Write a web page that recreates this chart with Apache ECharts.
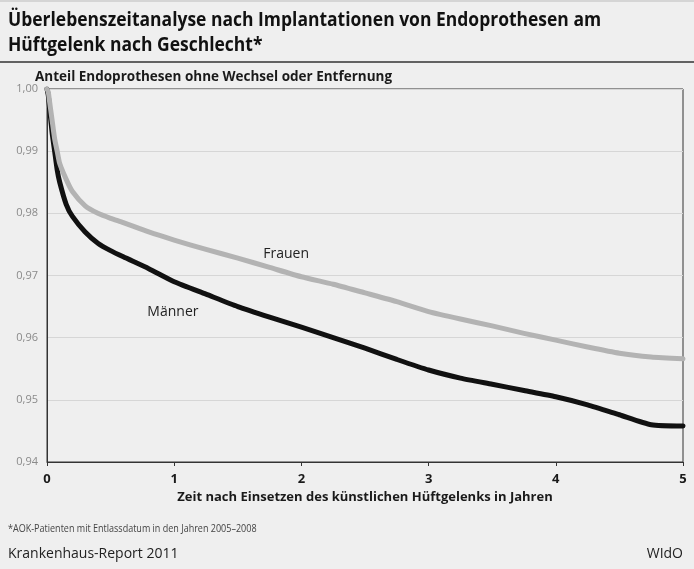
<!DOCTYPE html>
<html>
<head>
<meta charset="utf-8">
<script src="https://cdn.jsdelivr.net/npm/echarts@6/dist/echarts.min.js"></script>
<style>
html,body{margin:0;padding:0;background:#efefef;}
#c{width:694px;height:569px;}
</style>
</head>
<body>
<div id="c"></div>
<script>
var years = [0, 0.01, 0.02, 0.04, 0.06, 0.08, 0.1, 0.15, 0.2, 0.3, 0.4, 0.5, 0.6, 0.8, 1.0, 1.25, 1.5, 1.75, 2.0, 2.25, 2.5, 2.75, 3.0, 3.25, 3.5, 3.75, 4.0, 4.25, 4.5, 4.75, 5.0];
var frauen = [1.0, 0.9995, 0.998, 0.995, 0.992, 0.990, 0.988, 0.9855, 0.9835, 0.9812, 0.9800, 0.9792, 0.9785, 0.9770, 0.9757, 0.9742, 0.9728, 0.9713, 0.9698, 0.9686, 0.9672, 0.9658, 0.9642, 0.9630, 0.9619, 0.9607, 0.9596, 0.9585, 0.9575, 0.9569, 0.9566];
var maenner = [1.0, 0.999, 0.997, 0.993, 0.990, 0.987, 0.985, 0.9815, 0.9795, 0.9770, 0.9752, 0.9740, 0.9730, 0.9711, 0.9690, 0.9670, 0.9650, 0.9633, 0.9617, 0.9600, 0.9583, 0.9565, 0.9548, 0.9535, 0.9525, 0.9515, 0.9505, 0.9492, 0.9476, 0.9460, 0.9458];
var xTicks = [0, 1, 2, 3, 4, 5];
var yTicks = [0.94, 0.95, 0.96, 0.97, 0.98, 0.99, 1.00];

var FONT = '"Open Sans", sans-serif';
function pairs(xs, ys){ return xs.map(function(x,i){ return [x, ys[i]]; }); }

var chart = echarts.init(document.getElementById('c'));
chart.setOption({
  backgroundColor: '#efefef',
  animation: false,
  textStyle: {fontFamily: FONT},
  title: [
    {text: 'Anteil Endoprothesen ohne Wechsel oder Entfernung', left: 30, top: 65,
     textStyle: {fontFamily: FONT, fontSize: 13.5, fontWeight: 'bold', color: '#1a1a1a'}},
    {text: 'Krankenhaus-Report 2011', left: 3, top: 542,
     textStyle: {fontFamily: FONT, fontSize: 14, fontWeight: 'normal', color: '#222'}},
    {text: 'WIdO', right: 6, top: 542,
     textStyle: {fontFamily: FONT, fontSize: 14, fontWeight: 'normal', color: '#222'}}
  ],
  grid: {left: 47, right: 11, top: 89, bottom: 107, show: true, borderColor: '#333', borderWidth: 1, backgroundColor: 'transparent'},
  xAxis: {
    type: 'value', min: 0, max: 5, interval: 1,
    name: 'Zeit nach Einsetzen des künstlichen Hüftgelenks in Jahren',
    nameLocation: 'middle', nameGap: 27,
    nameTextStyle: {fontFamily: FONT, fontSize: 13, fontWeight: 'bold', color: '#1a1a1a'},
    axisLine: {show: true, lineStyle: {color: '#333', width: 1}},
    axisTick: {show: true, length: 4, lineStyle: {color: '#333'}},
    axisLabel: {fontFamily: FONT, fontSize: 13, fontWeight: 'bold', color: '#1a1a1a', margin: 11,
      formatter: function(v){ return xTicks.indexOf(v) >= 0 ? String(v) : ''; }},
    splitLine: {show: false}
  },
  yAxis: {
    type: 'value', min: 0.94, max: 1.00, interval: 0.01,
    axisLine: {show: true, lineStyle: {color: '#333', width: 1}},
    axisTick: {show: false},
    axisLabel: {fontFamily: FONT, fontSize: 11, color: '#8a8a8a', margin: 9,
      formatter: function(v){ return v.toFixed(2).replace('.', ','); }},
    splitLine: {show: true, lineStyle: {color: '#d6d6d6', width: 1}}
  },
  series: [
    {name: 'Männer', type: 'line', data: pairs(years, maenner), showSymbol: false, smooth: 0.2,
     lineStyle: {color: '#111', width: 5, join: 'round', cap: 'round'}, z: 2},
    {name: 'Frauen', type: 'line', data: pairs(years, frauen), showSymbol: false, smooth: 0.2,
     lineStyle: {color: '#b3b3b3', width: 5, join: 'round', cap: 'round'}, z: 3}
  ]
});
var lbls = [
  {text: 'Frauen', x: 1.88, y: 0.9735},
  {text: 'Männer', x: 0.99, y: 0.9642}
];
var g = lbls.map(function(l){
  var p = chart.convertToPixel({gridIndex: 0}, [l.x, l.y]);
  return {type: 'text', x: p[0], y: p[1], style: {text: l.text, font: '14px ' + FONT, fill: '#222', textAlign: 'center', textVerticalAlign: 'middle'}};
});
g.push(
  {type: 'text', x: 8, y: 8, scaleX: 0.92, style: {text: 'Überlebenszeitanalyse nach Implantationen von Endoprothesen am\nHüftgelenk nach Geschlecht*', font: 'bold 19px ' + FONT, fill: '#111', lineHeight: 25}},
  {type: 'text', x: 8, y: 523, scaleX: 0.82, style: {text: '*AOK-Patienten mit Entlassdatum in den Jahren 2005–2008', font: '11px ' + FONT, fill: '#444'}},
  {type: 'line', shape: {x1: 0, y1: 62, x2: 694, y2: 62}, style: {stroke: '#333', lineWidth: 1.5}},
  {type: 'line', shape: {x1: 0, y1: 1, x2: 694, y2: 1}, style: {stroke: '#bbb', lineWidth: 1}}
);
chart.setOption({graphic: g});
</script>
</body>
</html>
